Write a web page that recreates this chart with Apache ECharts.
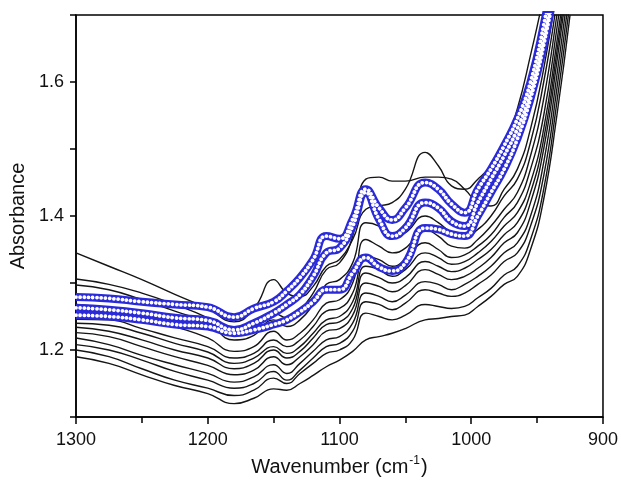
<!DOCTYPE html>
<html>
<head>
<meta charset="utf-8">
<script src="https://cdn.jsdelivr.net/npm/echarts@6/dist/echarts.min.js"></script>
<style>
  html, body { margin: 0; padding: 0; background: #fff; }
  #chart { width: 621px; height: 482px; }
</style>
</head>
<body>
<div id="chart"></div>
<script>
// wavenumber grid (cm-1)
const wavenumbers = [1300, 1275, 1250, 1225, 1200, 1180, 1165, 1150, 1140, 1130, 1120, 1110, 1100, 1090, 1080,
  1070, 1060, 1050, 1035, 1025, 1015, 1005, 995, 985, 975, 965, 955, 945, 935, 925];

// black spectra (top to bottom at 1300)
const spectrum1 = [1.345, 1.325, 1.305, 1.283, 1.262, 1.242, 1.262, 1.305, 1.285, 1.28, 1.295, 1.325, 1.335, 1.365, 1.41, 1.415, 1.42, 1.44, 1.495, 1.475, 1.445, 1.44, 1.455, 1.475, 1.505, 1.56, 1.64, 1.73, 1.84, 1.96];
const spectrum2 = [1.306, 1.298, 1.285, 1.268, 1.248, 1.225, 1.232, 1.255, 1.248, 1.26, 1.285, 1.32, 1.33, 1.37, 1.455, 1.458, 1.452, 1.452, 1.458, 1.458, 1.455, 1.44, 1.42, 1.415, 1.44, 1.47, 1.53, 1.62, 1.74, 1.88];
const spectrum3 = [1.297, 1.29, 1.275, 1.258, 1.24, 1.215, 1.222, 1.245, 1.235, 1.245, 1.268, 1.298, 1.305, 1.33, 1.39, 1.385, 1.37, 1.375, 1.40, 1.39, 1.375, 1.368, 1.38, 1.40, 1.43, 1.455, 1.51, 1.60, 1.72, 1.86];
const spectrum4 = [1.268, 1.262, 1.25, 1.235, 1.218, 1.198, 1.205, 1.228, 1.215, 1.225, 1.245, 1.27, 1.275, 1.30, 1.365, 1.355, 1.345, 1.352, 1.38, 1.37, 1.355, 1.352, 1.365, 1.385, 1.41, 1.435, 1.49, 1.575, 1.70, 1.84];
const spectrum5 = [1.246, 1.245, 1.232, 1.218, 1.205, 1.188, 1.195, 1.215, 1.205, 1.215, 1.235, 1.258, 1.262, 1.285, 1.34, 1.335, 1.325, 1.335, 1.36, 1.35, 1.338, 1.342, 1.355, 1.372, 1.398, 1.42, 1.47, 1.55, 1.68, 1.82];
const spectrum6 = [1.24, 1.237, 1.225, 1.21, 1.197, 1.18, 1.188, 1.205, 1.195, 1.205, 1.225, 1.245, 1.25, 1.272, 1.325, 1.32, 1.31, 1.32, 1.345, 1.338, 1.328, 1.332, 1.345, 1.362, 1.385, 1.405, 1.45, 1.53, 1.66, 1.80];
const spectrum7 = [1.234, 1.228, 1.215, 1.2, 1.188, 1.172, 1.18, 1.2, 1.188, 1.198, 1.218, 1.238, 1.242, 1.262, 1.315, 1.308, 1.3, 1.308, 1.332, 1.325, 1.317, 1.322, 1.335, 1.35, 1.372, 1.39, 1.435, 1.515, 1.645, 1.79];
const spectrum8 = [1.226, 1.22, 1.205, 1.19, 1.177, 1.163, 1.17, 1.19, 1.178, 1.19, 1.208, 1.228, 1.232, 1.252, 1.30, 1.295, 1.287, 1.296, 1.32, 1.313, 1.305, 1.31, 1.322, 1.338, 1.36, 1.375, 1.42, 1.50, 1.63, 1.78];
const spectrum9 = [1.218, 1.208, 1.192, 1.178, 1.165, 1.152, 1.16, 1.178, 1.165, 1.18, 1.198, 1.215, 1.22, 1.24, 1.285, 1.28, 1.272, 1.282, 1.302, 1.298, 1.29, 1.298, 1.31, 1.325, 1.345, 1.36, 1.40, 1.48, 1.61, 1.76];
const spectrum10 = [1.208, 1.2, 1.185, 1.168, 1.155, 1.143, 1.15, 1.168, 1.155, 1.17, 1.188, 1.205, 1.21, 1.228, 1.272, 1.268, 1.26, 1.27, 1.29, 1.285, 1.28, 1.285, 1.298, 1.312, 1.332, 1.345, 1.385, 1.46, 1.59, 1.74];
const spectrum11 = [1.2, 1.19, 1.172, 1.155, 1.143, 1.132, 1.14, 1.158, 1.15, 1.165, 1.18, 1.195, 1.2, 1.215, 1.255, 1.25, 1.245, 1.252, 1.268, 1.265, 1.262, 1.265, 1.278, 1.292, 1.312, 1.325, 1.365, 1.44, 1.57, 1.72];
const spectrum12 = [1.19, 1.18, 1.163, 1.147, 1.135, 1.12, 1.128, 1.142, 1.14, 1.15, 1.162, 1.175, 1.185, 1.198, 1.215, 1.22, 1.225, 1.232, 1.245, 1.247, 1.25, 1.252, 1.265, 1.28, 1.298, 1.31, 1.35, 1.425, 1.55, 1.70];

// blue (circle-marked) spectra
const blueA = [1.279, 1.277, 1.272, 1.268, 1.264, 1.249, 1.262, 1.272, 1.288, 1.308, 1.335, 1.37, 1.366, 1.395, 1.44, 1.412, 1.394, 1.412, 1.45, 1.44, 1.418, 1.405, 1.44, 1.47, 1.505, 1.545, 1.60, 1.685, 1.79, 1.92];
const blueB = [1.263, 1.26, 1.255, 1.248, 1.244, 1.23, 1.24, 1.255, 1.268, 1.283, 1.31, 1.345, 1.352, 1.385, 1.435, 1.395, 1.37, 1.382, 1.42, 1.412, 1.392, 1.385, 1.42, 1.455, 1.49, 1.53, 1.585, 1.665, 1.77, 1.90];
const blueC = [1.252, 1.25, 1.245, 1.238, 1.235, 1.225, 1.23, 1.238, 1.245, 1.257, 1.272, 1.29, 1.29, 1.315, 1.338, 1.324, 1.318, 1.33, 1.382, 1.38, 1.373, 1.37, 1.40, 1.435, 1.47, 1.515, 1.575, 1.655, 1.76, 1.89];

const blackSpectra = [spectrum1, spectrum2, spectrum3, spectrum4, spectrum5, spectrum6,
  spectrum7, spectrum8, spectrum9, spectrum10, spectrum11, spectrum12];
const blueSpectra = [blueA, blueB, blueC];

const toPairs = (ys) => wavenumbers.map((w, i) => [w, ys[i]]);
const font = 'Liberation Sans, Arial, sans-serif';

const series = [];
blackSpectra.forEach((s) => {
  series.push({
    type: 'line', data: toPairs(s), smooth: 0.5, symbol: 'none', z: 2,
    lineStyle: { color: '#151515', width: 1.4 }
  });
});
// circles: a blue band with round white holes punched along it
blueSpectra.forEach((s) => {
  series.push({
    type: 'line', data: toPairs(s), smooth: 0.5, symbol: 'none', z: 3,
    lineStyle: { color: '#2a2ad8', width: 8 }
  });
  series.push({
    type: 'line', data: toPairs(s), smooth: 0.5, symbol: 'none', z: 4,
    lineStyle: { color: '#ffffff', width: 3.8, type: [0.01, 4.2], cap: 'round' }
  });
});

const chart = echarts.init(document.getElementById('chart'));
chart.setOption({
  animation: false,
  grid: { left: 76, right: 13, top: 15, bottom: 65, show: true, borderColor: '#000', borderWidth: 1.5 },
  xAxis: {
    type: 'value', min: 900, max: 1300, interval: 100, inverse: true,
    name: '{a|Wavenumber (cm}{s|-1}{a|)}',
    nameLocation: 'middle', nameGap: 38,
    nameTextStyle: {
      rich: {
        a: { fontSize: 20, fontFamily: font, color: '#111' },
        s: { fontSize: 12, fontFamily: font, color: '#111', padding: [0, 1, 12, 1] }
      }
    },
    axisLine: { lineStyle: { color: '#000', width: 1.5 } },
    axisTick: { length: 7, lineStyle: { color: '#000', width: 1.5 } },
    minorTick: { show: true, splitNumber: 2, length: 6, lineStyle: { color: '#000', width: 1.5 } },
    splitLine: { show: false },
    axisLabel: { fontSize: 18, fontFamily: font, color: '#111', margin: 14, formatter: (v) => String(v) }
  },
  yAxis: {
    type: 'value', min: 1.1, max: 1.7, interval: 0.1,
    name: 'Absorbance', nameLocation: 'middle', nameGap: 40,
    nameTextStyle: { fontSize: 20, fontFamily: font, color: '#111' },
    axisLine: { show: true, lineStyle: { color: '#000', width: 1.5 } },
    axisTick: { length: 6, lineStyle: { color: '#000', width: 1.5 } },
    splitLine: { show: false },
    axisLabel: {
      fontSize: 18, fontFamily: font, color: '#111', margin: 12,
      formatter: (v) => (Math.round(v * 10) % 2 === 0 ? v.toFixed(1) : '')
    }
  },
  series: series
});
</script>
</body>
</html>
